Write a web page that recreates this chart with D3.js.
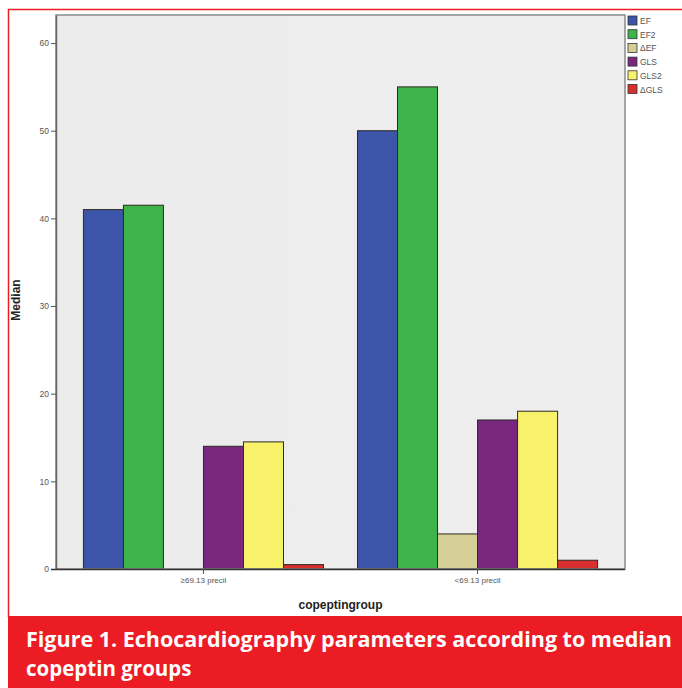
<!DOCTYPE html>
<html>
<head>
<meta charset="utf-8">
<script src="https://cdn.jsdelivr.net/npm/d3@7"></script>
<style>
  html, body { margin: 0; padding: 0; background: #fff; }
  svg { display: block; }
</style>
</head>
<body>
<svg id="chart" width="682" height="688"></svg>
<script>
// Median echocardiography values per copeptin group
const groups = ["\u226569.13 precil", "<69.13 precil"];
const seriesNames = ["EF", "EF2", "\u0394EF", "GLS", "GLS2", "\u0394GLS"];
const seriesColors = ["#3d55a8", "#3db34a", "#d6d096", "#7a287f", "#f8f26a", "#d8302e"];
const valuesGroup1 = [41, 41.5, 0, 14, 14.5, 0.5];
const valuesGroup2 = [50, 55, 4, 17, 18, 1];
const yTicks = [0, 10, 20, 30, 40, 50, 60];
const captionLines = ["Figure 1. Echocardiography parameters according to median", "copeptin groups"];

const groupValues = [valuesGroup1, valuesGroup2];

const svg = d3.select("#chart");
const W = 682, H = 688;
const red = "#ec1c24";

// Frame of the plot
const plot = { left: 56, right: 625, top: 15, bottom: 569 };

// Outer figure border and caption banner
svg.append("line").attr("x1", 8).attr("x2", W).attr("y1", 9.5).attr("y2", 9.5)
  .attr("stroke", red).attr("stroke-width", 1.5);
svg.append("line").attr("x1", 8.5).attr("x2", 8.5).attr("y1", 9).attr("y2", 617)
  .attr("stroke", red).attr("stroke-width", 1.5);
svg.append("rect").attr("x", 8).attr("y", 616).attr("width", W - 8).attr("height", H - 616)
  .attr("fill", red);

const caption = svg.append("text")
  .attr("fill", "#fff")
  .attr("font-family", "'Open Sans', Lato, sans-serif")
  .attr("font-weight", 700)
  .attr("font-size", 20.5);
caption.append("tspan").attr("x", 26).attr("y", 647).text(captionLines[0])
  .attr("textLength", 646).attr("lengthAdjust", "spacingAndGlyphs");
caption.append("tspan").attr("x", 26).attr("y", 676).text(captionLines[1]);

// Scales
const x0 = d3.scaleBand().domain(groups).range([plot.left, plot.right])
  .paddingInner(0.124).paddingOuter(0.1);
const x1 = d3.scaleBand().domain(seriesNames).range([0, x0.bandwidth()]).padding(0);
const y = d3.scaleLinear().domain([0, 63.2]).range([plot.bottom, plot.top]);

// Plot background with a soft gradient
const defs = svg.append("defs");
const grad = defs.append("linearGradient").attr("id", "bg").attr("x1", 0).attr("x2", 1).attr("y1", 0).attr("y2", 0);
grad.append("stop").attr("offset", "0%").attr("stop-color", "#ececec");
grad.append("stop").attr("offset", "100%").attr("stop-color", "#eeeeee");
svg.append("rect")
  .attr("x", plot.left).attr("y", plot.top)
  .attr("width", plot.right - plot.left).attr("height", plot.bottom - plot.top)
  .attr("fill", "url(#bg)");

// Bars
const gGroups = svg.append("g").selectAll("g")
  .data(groups.map((g, i) => ({ group: g, values: groupValues[i] })))
  .join("g")
  .attr("transform", d => `translate(${x0(d.group)},0)`);

gGroups.selectAll("rect")
  .data(d => d.values.map((v, i) => ({ name: seriesNames[i], value: v, color: seriesColors[i] })))
  .join("rect")
  .filter(d => d.value > 0)
  .attr("x", d => x1(d.name))
  .attr("y", d => y(d.value))
  .attr("width", x1.bandwidth())
  .attr("height", d => y(0) - y(d.value))
  .attr("fill", d => d.color)
  .attr("stroke", "#2e2a22")
  .attr("stroke-width", 1);

// Frame border
svg.append("rect")
  .attr("x", plot.left).attr("y", plot.top)
  .attr("width", plot.right - plot.left).attr("height", plot.bottom - plot.top)
  .attr("fill", "none").attr("stroke", "#8a8a8a").attr("stroke-width", 1.5);

// Y axis
const yAxis = svg.append("g")
  .attr("transform", `translate(${plot.left},0)`)
  .call(d3.axisLeft(y).tickValues(yTicks).tickSize(5).tickPadding(2).tickSizeOuter(0));
yAxis.select(".domain").attr("stroke", "#666").attr("stroke-width", 1.5);
yAxis.selectAll(".tick line").attr("stroke", "#555");
yAxis.selectAll(".tick text")
  .attr("fill", "#555").attr("font-family", "Arial, 'Liberation Sans', sans-serif").attr("font-size", 8.5);

// X axis
const xAxis = svg.append("g")
  .attr("transform", `translate(0,${plot.bottom})`)
  .call(d3.axisBottom(x0).tickSize(5).tickPadding(3).tickSizeOuter(0));
xAxis.select(".domain").attr("stroke", "#333").attr("stroke-width", 1.5)
  .attr("d", `M${plot.left - 5},0.5H${plot.right}`);
xAxis.selectAll(".tick line").attr("stroke", "#555");
xAxis.selectAll(".tick text")
  .attr("fill", "#555").attr("font-family", "Arial, 'Liberation Sans', sans-serif").attr("font-size", 8);

// Axis titles
svg.append("text")
  .attr("x", (plot.left + plot.right) / 2).attr("y", 609)
  .attr("text-anchor", "middle")
  .attr("font-family", "Arial, 'Liberation Sans', sans-serif")
  .attr("font-weight", 700).attr("font-size", 12).attr("fill", "#222")
  .text("copeptingroup");
svg.append("text")
  .attr("transform", `translate(20,${(plot.top + plot.bottom) / 2 + 8}) rotate(-90)`)
  .attr("text-anchor", "middle")
  .attr("font-family", "Arial, 'Liberation Sans', sans-serif")
  .attr("font-weight", 700).attr("font-size", 12).attr("fill", "#222")
  .text("Median");

// Legend
const legend = svg.append("g").attr("transform", `translate(${plot.right + 3},16)`)
  .selectAll("g").data(seriesNames).join("g")
  .attr("transform", (d, i) => `translate(0,${i * 13.7})`);
legend.append("rect")
  .attr("width", 9).attr("height", 9)
  .attr("fill", (d, i) => seriesColors[i])
  .attr("stroke", "#333").attr("stroke-width", 0.8);
legend.append("text")
  .attr("x", 12).attr("y", 8)
  .attr("font-family", "Arial, 'Liberation Sans', sans-serif")
  .attr("font-size", 8.5).attr("fill", "#555")
  .text(d => d);
</script>
</body>
</html>
